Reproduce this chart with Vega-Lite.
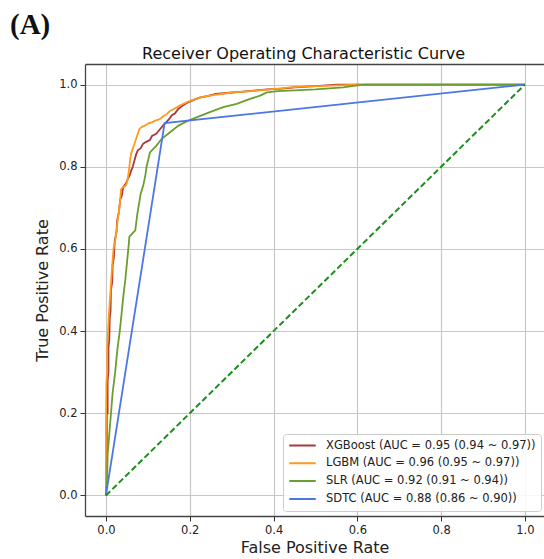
{
  "$schema": "https://vega.github.io/schema/vega-lite/v6.json",
  "autosize": {"type": "none"},
  "width": 459,
  "height": 452,
  "padding": {"left": 85, "top": 64, "right": 0, "bottom": 43},
  "background": "white",
  "title": {"text": "(A)", "anchor": "start", "frame": "group", "dx": -75, "dy": 30, "font": "Liberation Serif", "fontSize": 29, "fontWeight": "bold", "color": "#111", "baseline": "alphabetic", "offset": 12},
  "config": {
    "view": {"stroke": null},
    "font": "DejaVu Sans",
    "axis": {"labelFont": "DejaVu Sans", "titleFont": "DejaVu Sans", "titleFontWeight": "normal", "labelColor": "#222", "titleColor": "#222"}
  },
  "resolve": {"axis": {"x": "independent"}},
  "layer": [
    {
      "data": {"values": [
        {"model": "XGBoost", "fpr": 0, "tpr": 0},
        {"model": "XGBoost", "fpr": 0, "tpr": 0.08},
        {"model": "XGBoost", "fpr": 0.002, "tpr": 0.08},
        {"model": "XGBoost", "fpr": 0.002, "tpr": 0.2},
        {"model": "XGBoost", "fpr": 0.004, "tpr": 0.2},
        {"model": "XGBoost", "fpr": 0.004, "tpr": 0.28},
        {"model": "XGBoost", "fpr": 0.006, "tpr": 0.3},
        {"model": "XGBoost", "fpr": 0.006, "tpr": 0.36},
        {"model": "XGBoost", "fpr": 0.008, "tpr": 0.38},
        {"model": "XGBoost", "fpr": 0.009, "tpr": 0.43},
        {"model": "XGBoost", "fpr": 0.011, "tpr": 0.45},
        {"model": "XGBoost", "fpr": 0.012, "tpr": 0.5},
        {"model": "XGBoost", "fpr": 0.015, "tpr": 0.52},
        {"model": "XGBoost", "fpr": 0.016, "tpr": 0.56},
        {"model": "XGBoost", "fpr": 0.019, "tpr": 0.58},
        {"model": "XGBoost", "fpr": 0.021, "tpr": 0.62},
        {"model": "XGBoost", "fpr": 0.025, "tpr": 0.64},
        {"model": "XGBoost", "fpr": 0.027, "tpr": 0.67},
        {"model": "XGBoost", "fpr": 0.031, "tpr": 0.69},
        {"model": "XGBoost", "fpr": 0.034, "tpr": 0.72},
        {"model": "XGBoost", "fpr": 0.038, "tpr": 0.73},
        {"model": "XGBoost", "fpr": 0.041, "tpr": 0.75},
        {"model": "XGBoost", "fpr": 0.048, "tpr": 0.76},
        {"model": "XGBoost", "fpr": 0.052, "tpr": 0.77},
        {"model": "XGBoost", "fpr": 0.057, "tpr": 0.78},
        {"model": "XGBoost", "fpr": 0.06, "tpr": 0.79},
        {"model": "XGBoost", "fpr": 0.064, "tpr": 0.8},
        {"model": "XGBoost", "fpr": 0.068, "tpr": 0.815},
        {"model": "XGBoost", "fpr": 0.072, "tpr": 0.83},
        {"model": "XGBoost", "fpr": 0.076, "tpr": 0.84},
        {"model": "XGBoost", "fpr": 0.083, "tpr": 0.845},
        {"model": "XGBoost", "fpr": 0.088, "tpr": 0.855},
        {"model": "XGBoost", "fpr": 0.095, "tpr": 0.86},
        {"model": "XGBoost", "fpr": 0.105, "tpr": 0.865},
        {"model": "XGBoost", "fpr": 0.11, "tpr": 0.875},
        {"model": "XGBoost", "fpr": 0.12, "tpr": 0.88},
        {"model": "XGBoost", "fpr": 0.128, "tpr": 0.89},
        {"model": "XGBoost", "fpr": 0.136, "tpr": 0.9},
        {"model": "XGBoost", "fpr": 0.142, "tpr": 0.906},
        {"model": "XGBoost", "fpr": 0.15, "tpr": 0.915},
        {"model": "XGBoost", "fpr": 0.157, "tpr": 0.925},
        {"model": "XGBoost", "fpr": 0.165, "tpr": 0.93},
        {"model": "XGBoost", "fpr": 0.172, "tpr": 0.94},
        {"model": "XGBoost", "fpr": 0.182, "tpr": 0.948},
        {"model": "XGBoost", "fpr": 0.193, "tpr": 0.955},
        {"model": "XGBoost", "fpr": 0.208, "tpr": 0.962},
        {"model": "XGBoost", "fpr": 0.223, "tpr": 0.968},
        {"model": "XGBoost", "fpr": 0.242, "tpr": 0.972},
        {"model": "XGBoost", "fpr": 0.262, "tpr": 0.977},
        {"model": "XGBoost", "fpr": 0.295, "tpr": 0.98},
        {"model": "XGBoost", "fpr": 0.328, "tpr": 0.983},
        {"model": "XGBoost", "fpr": 0.36, "tpr": 0.986},
        {"model": "XGBoost", "fpr": 0.385, "tpr": 0.988},
        {"model": "XGBoost", "fpr": 0.42, "tpr": 0.99},
        {"model": "XGBoost", "fpr": 0.45, "tpr": 0.993},
        {"model": "XGBoost", "fpr": 0.5, "tpr": 0.996},
        {"model": "XGBoost", "fpr": 0.55, "tpr": 1.0},
        {"model": "XGBoost", "fpr": 1.0, "tpr": 1.0},
        {"model": "LGBM", "fpr": 0, "tpr": 0},
        {"model": "LGBM", "fpr": 0, "tpr": 0.15},
        {"model": "LGBM", "fpr": 0.001, "tpr": 0.27},
        {"model": "LGBM", "fpr": 0.003, "tpr": 0.3},
        {"model": "LGBM", "fpr": 0.003, "tpr": 0.36},
        {"model": "LGBM", "fpr": 0.005, "tpr": 0.4},
        {"model": "LGBM", "fpr": 0.007, "tpr": 0.44},
        {"model": "LGBM", "fpr": 0.009, "tpr": 0.47},
        {"model": "LGBM", "fpr": 0.011, "tpr": 0.5},
        {"model": "LGBM", "fpr": 0.013, "tpr": 0.53},
        {"model": "LGBM", "fpr": 0.015, "tpr": 0.56},
        {"model": "LGBM", "fpr": 0.018, "tpr": 0.6},
        {"model": "LGBM", "fpr": 0.022, "tpr": 0.62},
        {"model": "LGBM", "fpr": 0.025, "tpr": 0.64},
        {"model": "LGBM", "fpr": 0.028, "tpr": 0.67},
        {"model": "LGBM", "fpr": 0.031, "tpr": 0.69},
        {"model": "LGBM", "fpr": 0.034, "tpr": 0.72},
        {"model": "LGBM", "fpr": 0.036, "tpr": 0.745},
        {"model": "LGBM", "fpr": 0.04, "tpr": 0.75},
        {"model": "LGBM", "fpr": 0.045, "tpr": 0.752},
        {"model": "LGBM", "fpr": 0.049, "tpr": 0.757},
        {"model": "LGBM", "fpr": 0.052, "tpr": 0.77},
        {"model": "LGBM", "fpr": 0.054, "tpr": 0.785},
        {"model": "LGBM", "fpr": 0.056, "tpr": 0.8},
        {"model": "LGBM", "fpr": 0.058, "tpr": 0.82},
        {"model": "LGBM", "fpr": 0.061, "tpr": 0.835},
        {"model": "LGBM", "fpr": 0.066, "tpr": 0.85},
        {"model": "LGBM", "fpr": 0.072, "tpr": 0.868},
        {"model": "LGBM", "fpr": 0.076, "tpr": 0.88},
        {"model": "LGBM", "fpr": 0.08, "tpr": 0.892},
        {"model": "LGBM", "fpr": 0.086, "tpr": 0.897},
        {"model": "LGBM", "fpr": 0.093, "tpr": 0.9},
        {"model": "LGBM", "fpr": 0.1, "tpr": 0.905},
        {"model": "LGBM", "fpr": 0.109, "tpr": 0.908},
        {"model": "LGBM", "fpr": 0.118, "tpr": 0.912},
        {"model": "LGBM", "fpr": 0.129, "tpr": 0.916},
        {"model": "LGBM", "fpr": 0.136, "tpr": 0.922},
        {"model": "LGBM", "fpr": 0.145, "tpr": 0.928},
        {"model": "LGBM", "fpr": 0.152, "tpr": 0.935},
        {"model": "LGBM", "fpr": 0.161, "tpr": 0.94},
        {"model": "LGBM", "fpr": 0.175, "tpr": 0.948},
        {"model": "LGBM", "fpr": 0.193, "tpr": 0.957},
        {"model": "LGBM", "fpr": 0.205, "tpr": 0.962},
        {"model": "LGBM", "fpr": 0.216, "tpr": 0.965},
        {"model": "LGBM", "fpr": 0.23, "tpr": 0.97},
        {"model": "LGBM", "fpr": 0.248, "tpr": 0.973},
        {"model": "LGBM", "fpr": 0.275, "tpr": 0.977},
        {"model": "LGBM", "fpr": 0.304, "tpr": 0.981},
        {"model": "LGBM", "fpr": 0.33, "tpr": 0.983},
        {"model": "LGBM", "fpr": 0.36, "tpr": 0.985},
        {"model": "LGBM", "fpr": 0.39, "tpr": 0.988},
        {"model": "LGBM", "fpr": 0.41, "tpr": 0.99},
        {"model": "LGBM", "fpr": 0.44, "tpr": 0.993},
        {"model": "LGBM", "fpr": 0.47, "tpr": 0.995},
        {"model": "LGBM", "fpr": 0.52, "tpr": 0.997},
        {"model": "LGBM", "fpr": 0.6, "tpr": 1.0},
        {"model": "LGBM", "fpr": 1.0, "tpr": 1.0},
        {"model": "SLR", "fpr": 0, "tpr": 0},
        {"model": "SLR", "fpr": 0.003, "tpr": 0.05},
        {"model": "SLR", "fpr": 0.004, "tpr": 0.1},
        {"model": "SLR", "fpr": 0.008, "tpr": 0.15},
        {"model": "SLR", "fpr": 0.012, "tpr": 0.2},
        {"model": "SLR", "fpr": 0.016, "tpr": 0.25},
        {"model": "SLR", "fpr": 0.022, "tpr": 0.3},
        {"model": "SLR", "fpr": 0.027, "tpr": 0.353},
        {"model": "SLR", "fpr": 0.033, "tpr": 0.4},
        {"model": "SLR", "fpr": 0.038, "tpr": 0.45},
        {"model": "SLR", "fpr": 0.042, "tpr": 0.49},
        {"model": "SLR", "fpr": 0.046, "tpr": 0.523},
        {"model": "SLR", "fpr": 0.05, "tpr": 0.565},
        {"model": "SLR", "fpr": 0.054, "tpr": 0.606},
        {"model": "SLR", "fpr": 0.056, "tpr": 0.63},
        {"model": "SLR", "fpr": 0.07, "tpr": 0.645},
        {"model": "SLR", "fpr": 0.075, "tpr": 0.686},
        {"model": "SLR", "fpr": 0.079, "tpr": 0.71},
        {"model": "SLR", "fpr": 0.083, "tpr": 0.735},
        {"model": "SLR", "fpr": 0.089, "tpr": 0.754},
        {"model": "SLR", "fpr": 0.094, "tpr": 0.779},
        {"model": "SLR", "fpr": 0.097, "tpr": 0.8},
        {"model": "SLR", "fpr": 0.105, "tpr": 0.835},
        {"model": "SLR", "fpr": 0.121, "tpr": 0.852},
        {"model": "SLR", "fpr": 0.133, "tpr": 0.868},
        {"model": "SLR", "fpr": 0.153, "tpr": 0.884},
        {"model": "SLR", "fpr": 0.173, "tpr": 0.9},
        {"model": "SLR", "fpr": 0.196, "tpr": 0.912},
        {"model": "SLR", "fpr": 0.216, "tpr": 0.92},
        {"model": "SLR", "fpr": 0.248, "tpr": 0.933},
        {"model": "SLR", "fpr": 0.28, "tpr": 0.945},
        {"model": "SLR", "fpr": 0.312, "tpr": 0.953},
        {"model": "SLR", "fpr": 0.344, "tpr": 0.965},
        {"model": "SLR", "fpr": 0.368, "tpr": 0.973},
        {"model": "SLR", "fpr": 0.384, "tpr": 0.981},
        {"model": "SLR", "fpr": 0.41, "tpr": 0.984},
        {"model": "SLR", "fpr": 0.45, "tpr": 0.986},
        {"model": "SLR", "fpr": 0.5, "tpr": 0.988},
        {"model": "SLR", "fpr": 0.566, "tpr": 0.993},
        {"model": "SLR", "fpr": 0.6, "tpr": 0.998},
        {"model": "SLR", "fpr": 0.62, "tpr": 1.0},
        {"model": "SLR", "fpr": 1.0, "tpr": 1.0},
        {"model": "SDTC", "fpr": 0, "tpr": 0},
        {"model": "SDTC", "fpr": 0.14, "tpr": 0.906},
        {"model": "SDTC", "fpr": 1.0, "tpr": 1.0}
      ]},
      "mark": {"type": "line", "strokeWidth": 1.8, "clip": true},
      "encoding": {
        "x": {"field": "fpr", "type": "quantitative",
          "scale": {"domain": [-0.05, 1.0455], "nice": false, "zero": false},
          "axis": {"orient": "bottom", "title": "False Positive Rate", "titleFontSize": 16, "titlePadding": 4,
            "values": [0, 0.2, 0.4, 0.6, 0.8, 1.0], "format": ".1f", "labelFontSize": 11.5, "labelPadding": 3,
            "tickSize": 5, "tickColor": "#333", "domainColor": "#444", "domainWidth": 1.3,
            "grid": true, "gridColor": "#c8c8c8", "gridWidth": 1.2}},
        "y": {"field": "tpr", "type": "quantitative",
          "scale": {"domain": [-0.05, 1.05], "nice": false, "zero": false},
          "axis": {"orient": "left", "title": "True Positive Rate", "titleFontSize": 16, "titlePadding": 8,
            "values": [0, 0.2, 0.4, 0.6, 0.8, 1.0], "format": ".1f", "labelFontSize": 11.5, "labelPadding": 3,
            "tickSize": 5, "tickColor": "#333", "domainColor": "#444", "domainWidth": 1.3,
            "grid": true, "gridColor": "#c8c8c8", "gridWidth": 1.2}},
        "color": {"field": "model", "type": "nominal",
          "scale": {"domain": ["XGBoost", "LGBM", "SLR", "SDTC"], "range": ["#a8383c", "#ff9a1a", "#6b9e2e", "#4a76e6"]},
          "legend": {"orient": "none", "legendX": 198, "legendY": 370, "title": null, "direction": "vertical",
            "symbolType": "stroke", "symbolSize": 700, "symbolStrokeWidth": 2, "clipHeight": 13,
            "labelFont": "DejaVu Sans", "labelFontSize": 11.5, "labelColor": "#222", "labelOffset": 9, "labelLimit": 0,
            "padding": 5, "rowPadding": 4.8, "fillColor": "rgba(255,255,255,0.85)", "strokeColor": "#cccccc", "cornerRadius": 3,
            "labelExpr": "datum.label == 'XGBoost' ? 'XGBoost (AUC = 0.95 (0.94 ~ 0.97))' : datum.label == 'LGBM' ? 'LGBM (AUC = 0.96 (0.95 ~ 0.97))' : datum.label == 'SLR' ? 'SLR (AUC = 0.92 (0.91 ~ 0.94))' : 'SDTC (AUC = 0.88 (0.86 ~ 0.90))'"}},
        "order": {"value": null}
      }
    },
    {
      "data": {"values": [
        {"fpr": 0, "tpr": 0},
        {"fpr": 1, "tpr": 1}
      ]},
      "mark": {"type": "line", "color": "#1a8f1a", "strokeWidth": 2, "strokeDash": [6, 3]},
      "encoding": {
        "x": {"field": "fpr", "type": "quantitative",
          "scale": {"domain": [-0.05, 1.0455], "nice": false, "zero": false},
          "axis": {"orient": "top", "labels": false, "ticks": false, "grid": false, "domain": true,
            "domainColor": "#444", "domainWidth": 1.3,
            "title": "Receiver Operating Characteristic Curve", "titleFontSize": 16, "titleColor": "#111",
            "titleX": 218, "titleY": -6, "titleAlign": "center", "titleBaseline": "alphabetic", "titleAngle": 0}},
        "y": {"field": "tpr", "type": "quantitative",
          "scale": {"domain": [-0.05, 1.05], "nice": false, "zero": false}}
      }
    }
  ]
}
